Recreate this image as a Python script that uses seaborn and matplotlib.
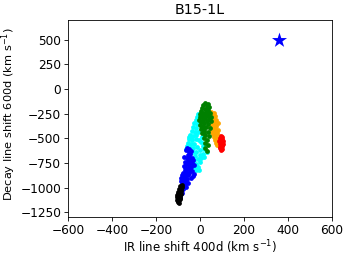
import numpy as np
import pandas as pd
import matplotlib
matplotlib.use("Agg")
import matplotlib.pyplot as plt
import seaborn as sns

# line shifts, grouped by colour (km/s)
black_x = [-100, -98, -103, -95, -100, -92, -97, -104, -90, -95, -100, -88, -93, -98, -86, -91, -95, -88, -84, -90, -82, -96, -102, -89, -106, -94]
black_y = [-1150, -1140, -1130, -1125, -1115, -1110, -1100, -1095, -1090, -1080, -1070, -1065, -1055, -1045, -1040, -1030, -1020, -1010, -995, -985, -975, -1060, -1110, -1120, -1075, -1155]

blue_x = [-95, -90, -85, -80, -75, -88, -70, -82, -65, -78, -60, -72, -85, -68, -55, -75, -62, -50, -70, -58, -45, -66, -52, -40,
          -62, -48, -70, -56, -44, -60, -50, -38, -56, -46, -52, -42, -48, -35, -30, -78, -92, -80,
          -98, -90, -76, -84, -64, -28, -33, -40, -58, -74, -66, -54, -80, -72, -36, -26, -62, -86]
blue_y = [-1090, -1060, -1030, -1000, -980, -1000, -960, -950, -940, -920, -910, -890, -900, -870, -870, -850, -840, -850, -820, -810, -820, -790, -780, -790,
          -760, -750, -740, -730, -720, -700, -690, -700, -670, -660, -640, -630, -610, -750, -720, -960, -1040, -1060,
          -1070, -1100, -1020, -970, -990, -860, -880, -900, -600, -690, -900, -950, -870, -780, -830, -770, -620, -930]

cyan_x = [-8, -15, 0, -20, -5, -25, -12, -30, -18, -38, -24, -45, -32, -16, -50, -36, -20, -56, -42, -26, -4, 6, -46, -30, -12, 12,
          -34, -16, 2, 20, -22, -2, 14, -26, -10, 6, -16, -2, -22, -8, -60, 24, -10, 30, -40, -52, 10, -28, -62, -18, 18, -6]
cyan_y = [-250, -280, -270, -310, -320, -350, -360, -390, -400, -430, -440, -470, -480, -470, -510, -520, -510, -550, -560, -555, -520, -540, -600, -600, -590, -580,
          -640, -635, -620, -610, -680, -670, -660, -720, -710, -700, -760, -745, -800, -790, -580, -560, -440, -640, -500, -490, -490, -760, -610, -820, -690, -820]

green_x = [25, 35, 15, 30, 42, 10, 22, 38, 5, 28, 15, 45, 0, 20, 35, 8, 25, 42, -5, 15, 30, 5, 20, 38, -2, 12, 28, 45, 5, 20, 35, 10,
           25, 40, 18, 32, 22, 35, 25, 30, 48, 50, 2, 18, 32, 8]
green_y = [-145, -155, -165, -175, -185, -190, -200, -210, -220, -230, -240, -245, -255, -265, -270, -285, -295, -300, -310, -315, -325, -340,
           -350, -355, -370, -380, -390, -400, -410, -420, -435, -450, -470, -480, -500, -520, -550, -570, -600, -630, -330, -280, -280, -440, -250, -390]

orange_x = [50, 62, 55, 70, 48, 62, 75, 55, 68, 80, 50, 62, 75, 45, 58, 70, 82, 52, 65, 78, 58, 70, 85, 62, 75, 88, 68, 80, 72, 85, 78, 66, 56]
orange_y = [-235, -245, -265, -275, -290, -300, -310, -320, -335, -345, -355, -365, -375, -385, -395, -405, -415, -425, -435, -445, -460, -470, -480, -490, -500, -510, -520, -530, -545, -555, -570, -350, -440]

red_x = [95, 100, 92, 102, 96, 88, 100, 94, 104, 90, 98, 102, 92, 97, 100, 95, 105, 90]
red_y = [-480, -490, -500, -510, -520, -530, -535, -545, -555, -560, -570, -580, -585, -595, -605, -615, -525, -600]

star_x = [360]
star_y = [500]

groups = [
    ("cyan", cyan_x, cyan_y),
    ("blue", blue_x, blue_y),
    ("black", black_x, black_y),
    ("orange", orange_x, orange_y),
    ("green", green_x, green_y),
    ("red", red_x, red_y),
]

fig = plt.figure(figsize=(3.49, 2.56), dpi=100)
ax = fig.add_axes([0.195, 0.152, 0.756, 0.77])

for colour, xs, ys in groups:
    df = pd.DataFrame({"x": xs, "y": ys})
    sns.scatterplot(data=df, x="x", y="y", color=colour, s=12, linewidth=0, ax=ax)

sns.scatterplot(x=star_x, y=star_y, marker="*", color="blue", s=130, linewidth=0, ax=ax)

ax.set_xlim(-600, 600)
ax.set_ylim(-1300, 700)
ax.set_xticks([-600, -400, -200, 0, 200, 400, 600])
ax.set_yticks([-1250, -1000, -750, -500, -250, 0, 250, 500])
ax.tick_params(labelsize=8.7, length=3, width=0.6, pad=2)
for sp in ax.spines.values():
    sp.set_linewidth(0.6)
ax.set_xlabel("IR line shift 400d (km s$^{-1}$)", fontsize=8.5, labelpad=1)
ax.set_ylabel("Decay line shift 600d (km s$^{-1}$)", fontsize=8.2)
ax.yaxis.set_label_coords(-0.19, 0.52)
ax.set_title("B15-1L", fontsize=10.3, pad=4)

fig.savefig("out.png", dpi=100)
